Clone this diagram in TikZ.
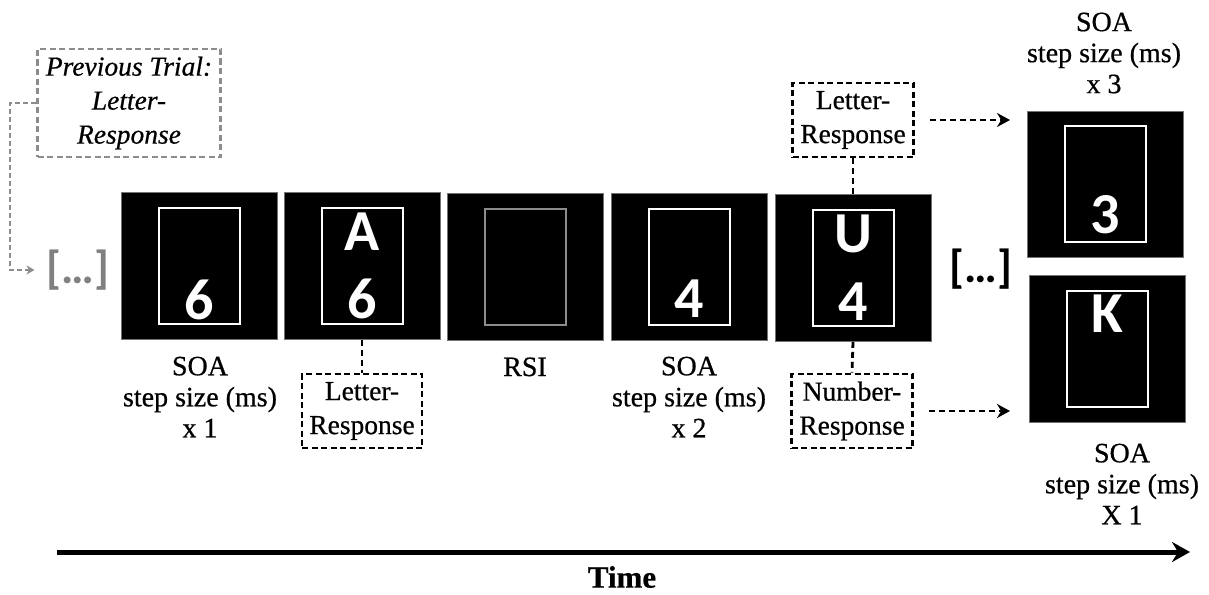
\documentclass[tikz,border=0pt]{standalone}
\usepackage{fontspec}
\setmainfont{Liberation Serif}[FakeBold=0.6]
\newfontfamily\screenfont{Carlito}
\usetikzlibrary{arrows.meta}

\begin{document}
\begin{tikzpicture}[x=1pt, y=-1pt,
  screen/.style={rectangle, fill=black, draw=black!55, line width=0.8pt, minimum width=156pt, minimum height=147pt, inner sep=0pt},
  inframe/.style={rectangle, draw=white, line width=2pt, minimum width=81pt, minimum height=116pt, inner sep=0pt},
  stim/.style={text=white, font=\screenfont\bfseries\fontsize{58}{58}\selectfont, inner sep=0pt},
  dots/.style={font=\screenfont\bfseries\fontsize{46}{46}\selectfont, inner sep=0pt},
  lbl/.style={align=center, font=\fontsize{28}{31}\selectfont, inner sep=0pt},
  resp/.style={draw, rectangle, line width=2.6pt, dash pattern=on 6pt off 3.5pt, align=center, font=\fontsize{27.5}{34}\selectfont, minimum width=120pt, minimum height=74pt, inner sep=0pt},
  link/.style={line width=2.8pt, dash pattern=on 6pt off 4pt},
  tip/.style={-{Stealth[length=13pt,width=14pt]}}]
\useasboundingbox (0,0) rectangle (1209,594);

% Screens in the sequence
\node[screen] (s1) at (199,266) {};
\node[screen] (s2) at (362,266) {};
\node[screen] (s3) at (525,267) {};
\node[screen] (s4) at (689,267) {};
\node[screen] (s5) at (853,268) {};
\node[screen, minimum height=146pt] (s6) at (1105,184) {};
\node[screen] (s7) at (1107,349) {};

\node[inframe] (f1) at (s1) {};
\node[inframe] (f2) at (s2) {};
\node[inframe, draw=black!45] (f3) at (s3) {};
\node[inframe] (f4) at (s4) {};
\node[inframe] (f5) at (s5) {};
\node[inframe] (f6) at (s6) {};
\node[inframe] (f7) at (s7) {};

% Stimuli
\node[stim, anchor=base, yshift=6pt] (n1) at (f1.south) {6};
\node[stim, anchor=base, yshift=-43pt] (l2) at (f2.north) {A};
\node[stim, anchor=base, yshift=7pt] (n2) at (f2.south) {6};
\node[stim, anchor=base, yshift=9pt] (n4) at (f4.south) {4};
\node[stim, anchor=base, yshift=-43pt] (l5) at (f5.north) {U};
\node[stim, anchor=base, yshift=7pt] (n5) at (f5.south) {4};
\node[stim, anchor=base, yshift=10pt] (n6) at (f6.south) {3};
\node[stim, anchor=base, yshift=-42pt] (l7) at (f7.north) {K};

\node[dots, text=black!50] (d1) at (78,270) {[…]};
\node[dots] (d2) at (981,269) {[…]};

% Labels
\node[lbl] (t1) at (200,397) {SOA\\step size (ms)\\x 1};
\node[lbl, anchor=base] (t3) at (525,376) {RSI};
\node[lbl] (t4) at (689,397) {SOA\\step size (ms)\\x 2};
\node[lbl] (t6) at (1104,53) {SOA\\step size (ms)\\x 3};
\node[lbl] (t7) at (1122,484) {SOA\\step size (ms)\\X 1};

% Responses
\node[resp, draw=black!45, minimum width=183pt, minimum height=108pt, font=\itshape\fontsize{27.5}{34}\selectfont] (prev) at (129,103) {Previous Trial:\\Letter-\\Response};
\node[resp] (r2) at (362,411) {Letter-\\Response};
\node[resp, minimum width=121pt] (r5a) at (853,120) {Letter-\\Response};
\node[resp, minimum width=121pt] (r5b) at (852,411) {Number-\\Response};

\draw[link, black!45, line width=2.2pt, dash pattern=on 5pt off 3pt, -{Stealth[length=8pt,width=9pt]}] (prev.west) -- ++(-26,0) |- ([xshift=-12pt]d1.west);
\draw[link] (s2.south) -- (r2.north);
\draw[link] (r5a.south) -- (s5.north);
\draw[link] (s5.south) -- (r5b.north);

\coordinate (a6) at (1010,0);
\draw[link, tip] ([xshift=15pt]r5a.east) -- (r5a.east -| a6);
\draw[link, tip] ([xshift=15pt]r5b.east) -- (r5b.east -| a6);

% Time axis
\coordinate (t0) at (57,552);
\coordinate (t9) at (1190,552);
\draw[line width=5pt, -{Stealth[length=18pt,width=20pt,inset=6pt]}] (t0) -- (t9);
\node[font=\bfseries\fontsize{31}{31}\selectfont] (time) at (622,577) {Time};
\end{tikzpicture}
\end{document}
